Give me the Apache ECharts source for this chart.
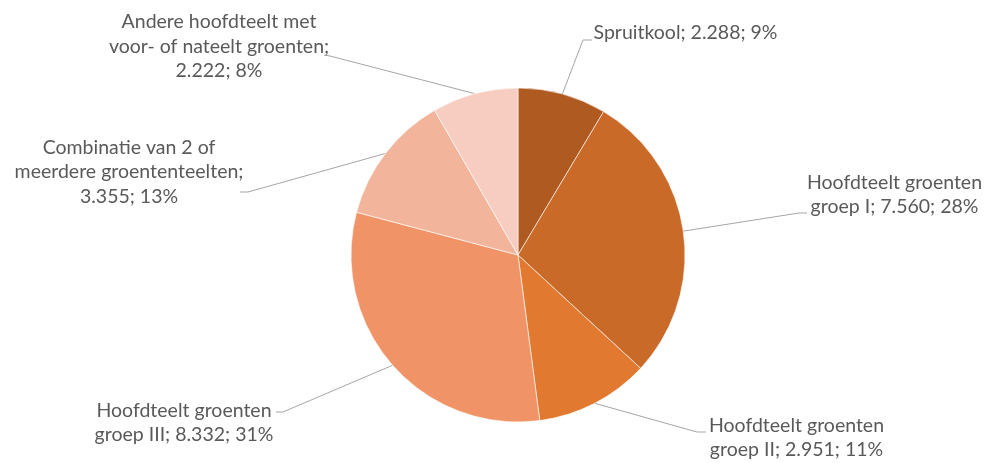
<!DOCTYPE html>
<html>
<head>
<meta charset="utf-8">
<script src="https://cdn.jsdelivr.net/npm/echarts@6/dist/echarts.min.js"></script>
<style>
html,body{margin:0;padding:0;background:#fff;}
#chart{width:986px;height:463px;}
</style>
</head>
<body>
<div id="chart"></div>
<script>
// ---- data ----
const categories = [
  'Spruitkool',
  'Hoofdteelt groenten groep I',
  'Hoofdteelt groenten groep II',
  'Hoofdteelt groenten groep III',
  'Combinatie van 2 of meerdere groententeelten',
  'Andere hoofdteelt met voor- of nateelt groenten'
];
const values = [2288, 7560, 2951, 8332, 3355, 2222];
// word index after which the label wraps (Excel wrapping)
const labelBreaks = [[], [2], [2], [2], [4, 6], [3, 7]];

// ---- styles / layout ----
const colors = ['#AE5A21', '#C96A29', '#E17A30', '#F09467', '#F2B49B', '#F6CDC0'];
// label block centre and leader-line end (elbow, end) per slice
const labelPos = [
  { cx: 685.5, cy: 33,    elbow: [583, 40],  end: [592, 40] },
  { cx: 894.5, cy: 194.5, elbow: [799, 213], end: [807, 213] },
  { cx: 796.5, cy: 437.5, elbow: [697, 432], end: [706, 432] },
  { cx: 184,   cy: 422.5, elbow: [283, 412], end: [276, 412] },
  { cx: 129,   cy: 172,   elbow: [248, 192], end: [240, 192] },
  { cx: 219,   cy: 46.5,  elbow: [330, 56],  end: [324, 55] }
];

function fmtNum(v) {
  return String(v).replace(/\B(?=(\d{3})+(?!\d))/g, '.');
}

const chart = echarts.init(document.getElementById('chart'), null, { renderer: 'canvas' });

const data = categories.map((c, i) => ({
  name: c,
  value: values[i],
  itemStyle: { color: colors[i] }
}));

chart.setOption({
  animation: false,
  backgroundColor: '#ffffff',
  series: [{
    type: 'pie',
    center: [518, 255],
    radius: 167,
    startAngle: 90,
    clockwise: true,
    avoidLabelOverlap: false,
    silent: true,
    data: data,
    itemStyle: { borderColor: '#ffffff', borderWidth: 0.6 },
    label: {
      show: true,
      position: 'outside',
      color: '#595959',
      fontFamily: 'Lato',
      fontSize: 19.5,
      lineHeight: 24.5,
      align: 'center',
      formatter: function (p) {
        const text = p.name + '; ' + fmtNum(p.value) + '; ' + Math.round(p.percent) + '%';
        const words = text.split(' ');
        const br = labelBreaks[p.dataIndex];
        let out = '';
        words.forEach((w, k) => {
          out += w;
          if (k < words.length - 1) out += br.indexOf(k + 1) >= 0 ? '\n' : ' ';
        });
        return out;
      }
    },
    labelLine: {
      show: true,
      length: 10,
      length2: 10,
      lineStyle: { color: '#A6A6A6', width: 1 }
    },
    labelLayout: function (params) {
      const lp = labelPos[params.dataIndex];
      const p0 = params.labelLinePoints ? params.labelLinePoints[0] : lp.elbow;
      return {
        x: lp.cx,
        y: lp.cy,
        align: 'center',
        verticalAlign: 'middle',
        labelLinePoints: [p0, lp.elbow, lp.end]
      };
    }
  }]
});
</script>
</body>
</html>
